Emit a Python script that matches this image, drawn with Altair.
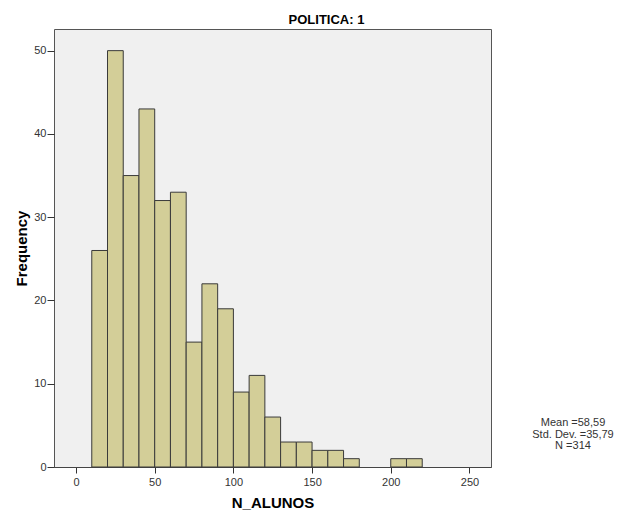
import altair as alt
import pandas as pd

bin_start = [10, 20, 30, 40, 50, 60, 70, 80, 90, 100, 110, 120, 130, 140, 150, 160, 170, 200, 210]
bin_end = [20, 30, 40, 50, 60, 70, 80, 90, 100, 110, 120, 130, 140, 150, 160, 170, 180, 210, 220]
counts = [26, 50, 35, 43, 32, 33, 15, 22, 19, 9, 11, 6, 3, 3, 2, 2, 1, 1, 1]
x_ticks = [0, 50, 100, 150, 200, 250]
y_ticks = [0, 10, 20, 30, 40, 50]
stats_lines = ["Mean =58,59", "Std. Dev. =35,79", "N =314"]

df = pd.DataFrame({"start": bin_start, "end": bin_end, "count": counts})
FONT = "Liberation Sans"

bars = alt.Chart(df).mark_bar(
    fill="#d3ce98", stroke="#3a3a3a", strokeWidth=1
).encode(
    x=alt.X("start:Q",
            scale=alt.Scale(domain=[-14, 263.7], nice=False, zero=False),
            axis=alt.Axis(values=x_ticks, title="N_ALUNOS", grid=False,
                          tickSize=6, labelPadding=3, domainColor="#444",
                          tickColor="#333", labelColor="#333", labelFontSize=11,
                          labelFont=FONT, titleFont=FONT, titleFontSize=15,
                          titleFontWeight="bold", titleColor="#000",
                          titleY=35, titleBaseline="middle")),
    x2="end:Q",
    y=alt.Y("count:Q",
            scale=alt.Scale(domain=[0, 52.6], nice=False),
            axis=alt.Axis(values=y_ticks, title="Frequency", grid=False,
                          tickSize=7, labelPadding=1, domain=False,
                          tickColor="#333", labelColor="#333", labelFontSize=11,
                          labelFont=FONT, titleFont=FONT, titleFontSize=15,
                          titleFontWeight="bold", titleColor="#000",
                          titleX=-33, titleY=219, titleBaseline="middle")),
    y2=alt.datum(0),
)

stats = alt.Chart(pd.DataFrame({"k": [0]})).mark_text(
    font=FONT, fontSize=11, color="#333", align="center", baseline="middle",
    lineHeight=11.5,
).encode(
    x=alt.value(519),
    y=alt.value(394),
    text=alt.value(stats_lines),
)

chart = alt.layer(bars, stats).properties(
    width=437, height=438,
    padding={"left": 46, "top": 21, "right": 133, "bottom": 45},
    autosize=alt.AutoSizeParams(type="none"),
    title=alt.TitleParams("POLITICA: 1", anchor="middle", dx=54, offset=2,
                          font=FONT, fontSize=13, fontWeight="bold", color="#000"),
    background="white",
).configure_view(
    fill="#f0f0f0", stroke="#555", strokeWidth=1
)

chart.save("out.html", embed_options={"renderer": "svg", "actions": False})
